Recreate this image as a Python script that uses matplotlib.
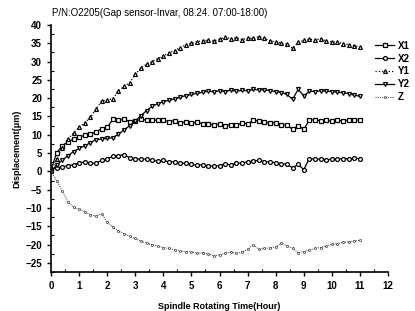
import numpy as np
import matplotlib
matplotlib.use("Agg")
import matplotlib.pyplot as plt
from matplotlib.ticker import MultipleLocator

plt.rcParams['font.family'] = ['Liberation Sans', 'DejaVu Sans']

# time axis, hours (one reading every 0.2 h)
hours = [round(0.2 * i, 1) for i in range(56)]

x1 = [0.5, 5.0, 7.0, 8.0, 8.9, 9.4, 9.8, 10.1, 10.8, 11.6,
      12.0, 14.2, 14.0, 14.3, 13.6, 13.8, 14.2, 14.0, 14.1, 13.9,
      13.9, 13.6, 13.8, 13.3, 13.5, 13.2, 13.4, 13.0, 12.9, 12.7,
      12.9, 12.5, 12.8, 12.6, 13.2, 13.0, 13.9, 13.8, 13.5, 13.2,
      13.3, 12.8, 12.6, 11.5, 12.4, 11.5, 14.0, 14.1, 13.8, 13.9,
      13.7, 13.9, 13.8, 14.0, 14.1, 14.0]
x2 = [0.5, 1.0, 1.2, 1.6, 1.8, 2.3, 2.6, 2.3, 2.2, 3.0,
      3.4, 4.1, 4.3, 4.6, 3.7, 3.5, 3.3, 3.4, 3.0, 2.8,
      3.0, 2.6, 2.6, 2.2, 2.3, 1.9, 1.7, 1.8, 1.5, 1.4,
      1.6, 2.0, 1.8, 2.2, 2.3, 2.6, 2.8, 3.0, 2.7, 2.5,
      2.4, 2.1, 1.9, 1.0, 1.9, 0.5, 3.5, 3.3, 3.4, 3.2,
      3.3, 3.4, 3.5, 3.4, 3.6, 3.5]
y1 = [0.0, 3.5, 6.5, 8.8, 10.5, 12.0, 13.3, 14.8, 17.0, 19.2,
      19.5, 19.8, 22.0, 23.2, 24.2, 26.5, 28.2, 29.3, 30.0, 30.8,
      31.5, 32.3, 33.0, 33.8, 34.5, 35.0, 35.4, 35.7, 35.8, 35.6,
      36.1, 36.6, 36.2, 36.5, 36.0, 36.4, 36.3, 36.8, 36.3, 35.6,
      35.4, 35.0, 34.7, 33.6, 35.2, 35.8, 36.1, 35.9, 36.2, 35.6,
      35.4, 35.3, 34.9, 34.6, 34.3, 33.9]
y2 = [0.0, 1.8, 3.0, 4.3, 5.4, 6.3, 7.0, 7.8, 8.7, 8.8,
      9.0, 9.2, 10.2, 11.3, 12.5, 13.8, 15.2, 16.6, 17.8, 18.5,
      19.0, 19.4, 19.8, 20.2, 20.7, 21.0, 21.3, 21.6, 21.9, 21.7,
      22.0, 21.8, 22.2, 21.9, 22.1, 22.0, 22.4, 22.2, 22.3, 22.0,
      21.8, 21.5, 21.0, 19.7, 22.4, 20.6, 21.9, 21.8, 22.0, 21.9,
      21.8, 21.6, 21.5, 21.2, 20.8, 20.5]
z = [0.0, -2.5, -5.3, -8.3, -9.8, -10.4, -11.0, -11.8, -12.2, -11.6,
     -13.8, -15.2, -16.3, -17.0, -17.7, -18.3, -19.0, -19.6, -20.0, -20.4,
     -20.8, -21.0, -21.4, -21.8, -21.9, -22.0, -22.3, -22.2, -22.6, -23.0,
     -22.8, -22.3, -22.0, -22.4, -22.0, -21.3, -20.0, -21.3, -21.0, -20.9,
     -20.6, -19.6, -20.3, -21.0, -22.2, -21.9, -21.5, -21.0, -20.8, -20.3,
     -19.9, -19.7, -19.4, -19.2, -19.0, -18.8]

fig = plt.figure(figsize=(4.15, 3.11), dpi=100)
ax = fig.add_axes([0.123, 0.125, 0.812, 0.795])

mk = dict(color="k", lw=0.9, ms=2.8, mfc="white", mew=0.9)
ax.plot(hours, x1, "s-", label="X1", **mk)
ax.plot(hours, x2, "o-", label="X2", **mk)
ax.plot(hours, y1, "^:", label="Y1", **mk)
ax.plot(hours, y2, "v-", label="Y2", **mk)
ax.plot(hours, z, "o", ls=(0, (1, 1.2)), color="0.2", lw=0.7, ms=1.5,
        mfc="white", mew=0.5, label="Z")

ax.set_xlim(0, 12)
ax.set_ylim(-27.5, 40)
ax.xaxis.set_major_locator(MultipleLocator(1))
ax.xaxis.set_minor_locator(MultipleLocator(0.5))
ax.yaxis.set_major_locator(MultipleLocator(5))
ax.yaxis.set_minor_locator(MultipleLocator(2.5))
ax.spines["top"].set_visible(False)
ax.spines["right"].set_visible(False)
ax.spines["left"].set_linewidth(1.2)
ax.spines["bottom"].set_linewidth(1.2)
ax.tick_params(which="major", direction="out", length=3, width=1, labelsize=7)
ax.tick_params(which="minor", direction="in", length=2, width=0.8)
for lb in ax.get_xticklabels() + ax.get_yticklabels():
    lb.set_fontweight("bold")

ax.set_xlabel("Spindle Rotating Time(Hour)", fontsize=6.5, fontweight="bold", labelpad=8)
ax.set_ylabel("Displacement(\u03bcm)", fontsize=6.5, fontweight="bold", labelpad=3)

fig.text(0.125, 0.957, "P/N:O2205(Gap sensor-Invar, 08.24. 07:00-18:00)",
         fontsize=7, va="center", ha="left")

fig.legend(loc="upper left", bbox_to_anchor=(370 / 415, 0.885), frameon=False,
           prop={"weight": "bold", "size": 7}, borderpad=0,
           labelspacing=0.3, handlelength=2.0, handletextpad=0.4)

fig.savefig("out.png", dpi=100)
